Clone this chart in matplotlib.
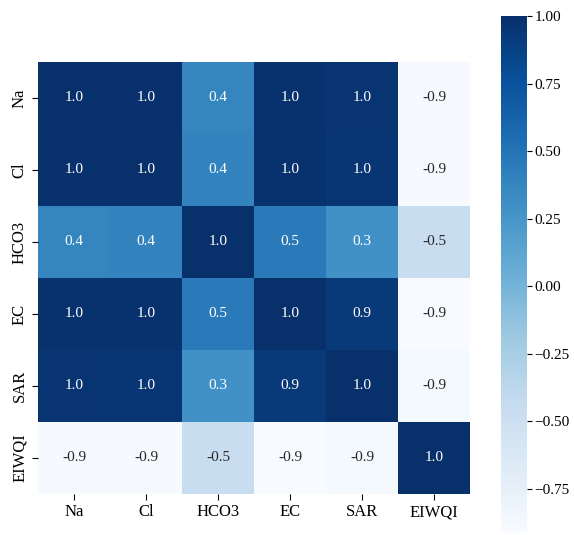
import numpy as np
import pandas as pd
import matplotlib
matplotlib.use("Agg")
import matplotlib.pyplot as plt
import seaborn as sns

plt.rcParams['font.family'] = ['Liberation Serif', 'DejaVu Serif']

# correlation matrix of the water quality parameters
params = ['Na', 'Cl', 'HCO3', 'EC', 'SAR', 'EIWQI']
na = [1.00, 0.99, 0.38, 0.98, 0.97, -0.90]
cl = [0.99, 1.00, 0.39, 0.98, 0.96, -0.90]
hco3 = [0.38, 0.39, 1.00, 0.46, 0.29, -0.46]
ec = [0.98, 0.98, 0.46, 1.00, 0.93, -0.91]
sar = [0.97, 0.96, 0.29, 0.93, 1.00, -0.88]
eiwqi = [-0.90, -0.90, -0.46, -0.91, -0.88, 1.00]

corr = pd.DataFrame([na, cl, hco3, ec, sar, eiwqi], index=params, columns=params)

fig = plt.figure(figsize=(5.74, 5.35), dpi=100)
ax = fig.add_axes([38 / 574, (535 - 494) / 535, 432 / 574, 432 / 535])
cax = fig.add_axes([501 / 574, (535 - 532) / 535, 26 / 574, 516 / 535])

sns.heatmap(corr, ax=ax, cbar_ax=cax, cmap='Blues', annot=True, fmt='.1f',
            annot_kws={'fontsize': 11})

ax.tick_params(axis='both', labelsize=12, length=4)
ax.set_yticklabels(params, rotation=90, va='center')
ax.set_xticklabels(params, rotation=0)

cax.tick_params(labelsize=11, pad=2)
cax.set_yticks([-0.75, -0.5, -0.25, 0.0, 0.25, 0.5, 0.75, 1.0])

fig.savefig('out.png', dpi=100)
